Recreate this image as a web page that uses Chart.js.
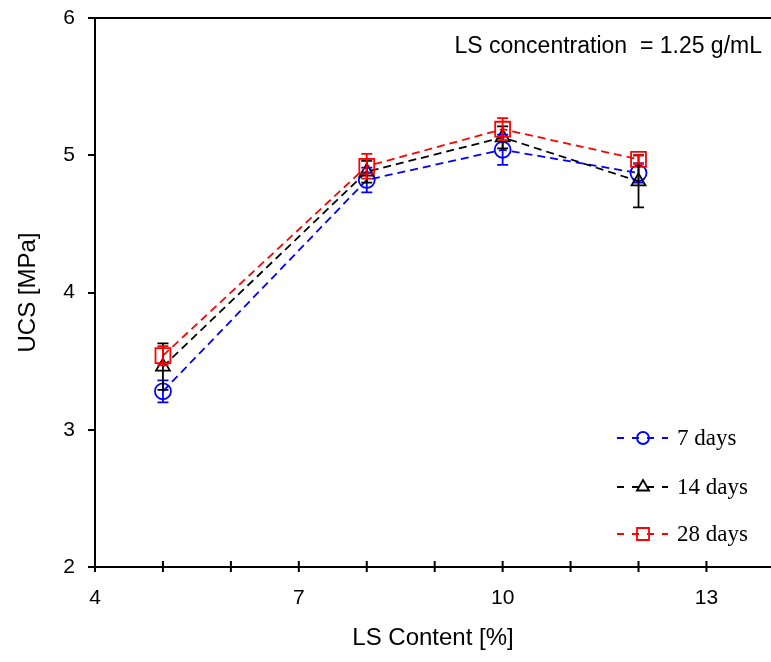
<!DOCTYPE html>
<html><head><meta charset="utf-8">
<script src="https://cdn.jsdelivr.net/npm/chart.js@4.4.0/dist/chart.umd.min.js"></script>
<style>html,body{margin:0;padding:0;background:#fff;overflow:hidden}</style>
</head><body>
<canvas id="c" width="771" height="662"></canvas>
<script>
// ---- data ----
const lsContent = [5, 8, 10, 12];
const ucs7  = [3.28, 4.82, 5.04, 4.87];
const err7  = [0.08, 0.09, 0.11, 0.07];
const ucs14 = [3.46, 4.88, 5.13, 4.81];
const err14 = [0.17, 0.08, 0.08, 0.19];
const ucs28 = [3.54, 4.92, 5.19, 4.97];
const err28 = [0.07, 0.09, 0.08, 0.03];
const seriesNames = ['7 days', '14 days', '28 days'];
const xTickLabels = [4, 7, 10, 13];
const xMinorTicks = [4, 5, 6, 7, 8, 9, 10, 11, 12, 13];
const yTickLabels = [2, 3, 4, 5, 6];
const xTitle = 'LS Content [%]';
const yTitle = 'UCS [MPa]';
const noteText = 'LS concentration  = 1.25 g/mL';

const colors = ['#0000ff', '#000000', '#ff0000'];
const styles = ['circle', 'triangle', 'rect'];
const radii = [8, 8, 10.5];
const legendRadii = [6, 7, 8.5];
const values = [ucs7, ucs14, ucs28];
const errors = [err7, err14, err28];

const SANS = "'Liberation Sans', Arial, sans-serif";
const SERIF = "'Liberation Serif', 'Times New Roman', serif";

const datasets = values.map((vals, i) => ({
  label: seriesNames[i],
  data: lsContent.map((x, j) => ({x: x, y: vals[j]})),
  borderColor: colors[i],
  backgroundColor: 'rgba(0,0,0,0)',
  borderWidth: 1.8,
  borderDash: [8, 5],
  pointStyle: styles[i],
  pointRadius: radii[i],
  pointBorderWidth: 1.8,
  pointBorderColor: colors[i],
  pointBackgroundColor: 'rgba(0,0,0,0)',
  order: 2 - i,
  tension: 0
}));

const decor = {
  id: 'decor',
  afterDatasetsDraw(chart) {
    const {ctx, scales: {x, y}} = chart;
    ctx.save();
    ctx.lineWidth = 1.8;
    values.forEach((vals, i) => {
      ctx.strokeStyle = colors[i];
      vals.forEach((v, j) => {
        const px = x.getPixelForValue(lsContent[j]);
        const top = y.getPixelForValue(v + errors[i][j]);
        const bot = y.getPixelForValue(v - errors[i][j]);
        ctx.beginPath();
        ctx.moveTo(px, top); ctx.lineTo(px, bot);
        ctx.moveTo(px - 5.5, top); ctx.lineTo(px + 5.5, top);
        ctx.moveTo(px - 5.5, bot); ctx.lineTo(px + 5.5, bot);
        ctx.stroke();
      });
    });
    ctx.restore();
  },
  afterDraw(chart) {
    const {ctx, chartArea: a, scales: {x, y}} = chart;
    ctx.save();
    ctx.strokeStyle = '#000';
    ctx.lineWidth = 2;
    ctx.beginPath();
    ctx.moveTo(a.left - 7, a.top); ctx.lineTo(771, a.top);
    xMinorTicks.forEach(v => {
      const px = x.getPixelForValue(v);
      ctx.moveTo(px, a.bottom - 6); ctx.lineTo(px, a.bottom + 5);
    });
    ctx.stroke();

    // legend
    const legY = [438, 487, 534];
    seriesNames.forEach((name, i) => {
      ctx.save();
      ctx.strokeStyle = colors[i];
      ctx.fillStyle = 'rgba(0,0,0,0)';
      ctx.lineWidth = 1.8;
      ctx.setLineDash([7, 8]);
      ctx.beginPath();
      ctx.moveTo(617, legY[i]); ctx.lineTo(668, legY[i]);
      ctx.stroke();
      ctx.setLineDash([]);
      Chart.helpers.drawPoint(ctx, {pointStyle: styles[i], radius: legendRadii[i], borderWidth: 1.8, rotation: 0}, 643, legY[i]);
      ctx.restore();
      ctx.fillStyle = '#000';
      ctx.font = '23px ' + SERIF;
      ctx.textAlign = 'left';
      ctx.textBaseline = 'middle';
      ctx.fillText(name, 677, legY[i] + 1);
    });

    // note
    ctx.fillStyle = '#000';
    ctx.font = '23px ' + SANS;
    ctx.textAlign = 'right';
    ctx.textBaseline = 'middle';
    ctx.fillText(noteText, 762, 47);

    // axis titles (centred on the axes)
    ctx.font = '24px ' + SANS;
    ctx.textAlign = 'center';
    ctx.fillText(xTitle, (a.left + a.right) / 2, 638);
    ctx.save();
    ctx.translate(28, (a.top + a.bottom) / 2);
    ctx.rotate(-Math.PI / 2);
    ctx.font = '24px ' + SANS;
    ctx.fillText(yTitle, 0, 0);
    ctx.restore();
    ctx.restore();
  }
};

new Chart(document.getElementById('c'), {
  type: 'line',
  data: {datasets: datasets},
  options: {
    responsive: false,
    devicePixelRatio: 1,
    animation: false,
    layout: {padding: {top: 18, right: 0, left: 0, bottom: 0}, autoPadding: false},
    plugins: {legend: {display: false}, tooltip: {enabled: false}},
    scales: {
      x: {
        type: 'linear',
        min: 4,
        max: 13.95,
        afterBuildTicks: s => { s.ticks = xTickLabels.map(v => ({value: v})); },
        afterFit: s => { s.height = 95; s.paddingLeft = 0; s.paddingRight = 0; },
        grid: {display: false, drawTicks: false},
        border: {display: true, color: '#000', width: 2},
        ticks: {color: '#000', font: {family: SANS, size: 21}, padding: 19, maxRotation: 0, autoSkip: false}
      },
      y: {
        type: 'linear',
        min: 2,
        max: 6,
        afterBuildTicks: s => { s.ticks = yTickLabels.map(v => ({value: v})); },
        afterFit: s => { s.width = 95; s.paddingTop = 0; s.paddingBottom = 0; },
        grid: {display: true, drawOnChartArea: false, drawTicks: true, tickLength: 7, color: '#000', lineWidth: 2},
        border: {display: true, color: '#000', width: 2},
        ticks: {color: '#000', font: {family: SANS, size: 21}, padding: 13}
      }
    }
  },
  plugins: [decor]
});
</script>
</body></html>
